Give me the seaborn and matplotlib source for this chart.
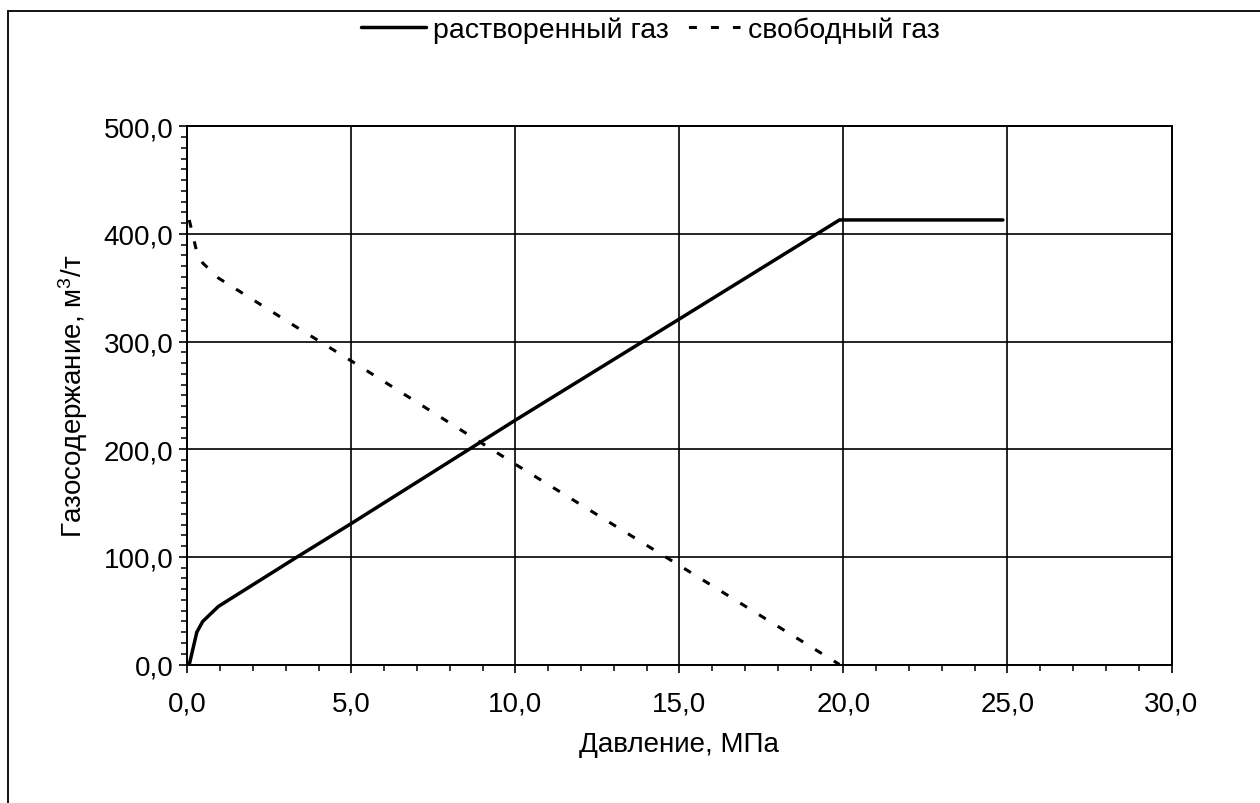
import matplotlib
matplotlib.use("Agg")
import matplotlib.pyplot as plt
import matplotlib.ticker as mticker
from matplotlib.patches import Rectangle
import seaborn as sns
import pandas as pd

# ---- data ----
pressure = [0.06, 0.29, 0.47, 0.95, 3.3, 5.0, 10.0, 15.0, 19.88, 24.86]
dissolved_gas = [0.0, 30.0, 40.0, 54.0, 99.0, 131.0, 227.0, 321.0, 413.0, 413.0]
free_pressure = [0.06, 0.29, 0.47, 0.95, 3.3, 5.0, 10.0, 15.0, 19.88]
free_gas = [413.0, 383.0, 373.0, 359.0, 314.0, 282.0, 186.0, 92.0, 0.0]

label_dissolved = "растворенный газ"
label_free = "свободный газ"
x_label = "Давление, МПа"
y_label = "Газосодержание, м$^3$/т"
x_ticks = [0, 5, 10, 15, 20, 25, 30]
y_ticks = [0, 100, 200, 300, 400, 500]

sns.set_theme(style="white")
plt.rcParams["font.family"] = ["Liberation Sans", "DejaVu Sans"]
plt.rcParams["mathtext.fontset"] = "custom"
plt.rcParams["mathtext.rm"] = "Liberation Sans"
plt.rcParams["mathtext.it"] = "Liberation Sans"

FS = 20

fig = plt.figure(figsize=(12.6, 8.04), dpi=100)
fig.patch.set_facecolor("white")
ax = fig.add_axes([187.3 / 1260, 1 - 665.5 / 804, (1171.5 - 187.3) / 1260, (665.5 - 127.3) / 804])

df_d = pd.DataFrame({"p": pressure, "g": dissolved_gas})
df_f = pd.DataFrame({"p": free_pressure, "g": free_gas})

sns.lineplot(data=df_d, x="p", y="g", ax=ax, color="black", lw=2.5,
             label=label_dissolved, sort=False)
sns.lineplot(data=df_f, x="p", y="g", ax=ax, color="black", lw=2.2,
             linestyle=(0, (2.6, 4.6)), label=label_free, sort=False)

ax.set_xlim(0, 30)
ax.set_ylim(0, 500)
ax.xaxis.set_major_locator(mticker.FixedLocator(x_ticks))
ax.yaxis.set_major_locator(mticker.FixedLocator(y_ticks))
ax.xaxis.set_minor_locator(mticker.MultipleLocator(1))
ax.yaxis.set_minor_locator(mticker.MultipleLocator(10))
fmt = mticker.FuncFormatter(lambda v, p: f"{v:.1f}".replace(".", ","))
ax.xaxis.set_major_formatter(fmt)
ax.yaxis.set_major_formatter(fmt)

ax.grid(True, which="major", color="black", lw=1.2)
for s in ax.spines.values():
    s.set_color("black")
    s.set_linewidth(1.4)
ax.tick_params(which="major", direction="out", length=6, width=1.2, color="black",
               labelsize=FS, labelcolor="black", bottom=True, left=True)
ax.tick_params(which="minor", direction="out", length=4.5, width=1.1, color="black",
               bottom=True, left=True)
ax.tick_params(axis="x", which="major", pad=13)
ax.tick_params(axis="y", which="major", pad=4)

ax.set_xlabel(x_label, fontsize=FS, color="black", labelpad=10)
ax.set_ylabel(y_label, fontsize=FS, color="black", labelpad=10)

ax.get_legend().remove()
handles, labels = ax.get_legend_handles_labels()
leg = fig.legend(handles, labels, loc="center", bbox_to_anchor=(0.516, 0.962), ncol=2,
                 frameon=False, fontsize=20.5, handlelength=2.3, handletextpad=0.25,
                 columnspacing=0.2, labelcolor="black")
# shift dash phase in the legend so the last dash sits next to the text
leg.get_lines()[1].set_linestyle((2.8, (2.6, 4.6)))

fig.add_artist(Rectangle((8 / 1260, -0.05), 1.1, 1 - 12 / 804 + 0.05,
                         transform=fig.transFigure, fill=False,
                         edgecolor="black", lw=1.3, clip_on=False))

fig.savefig("out.png", dpi=100, facecolor="white")
